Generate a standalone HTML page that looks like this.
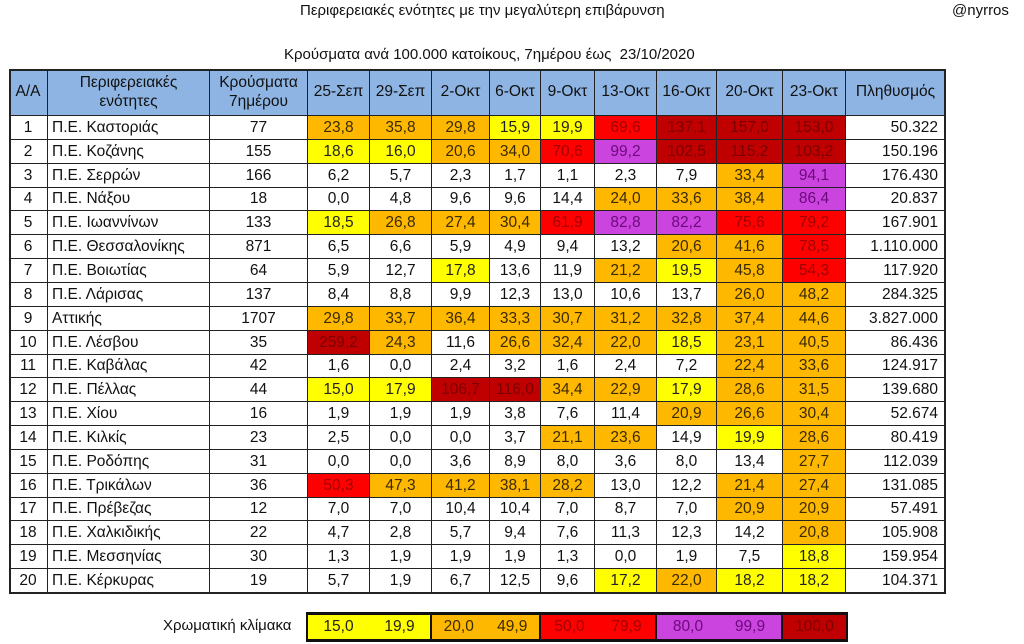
<!DOCTYPE html>
<html><head><meta charset="utf-8">
<style>
body{margin:0;width:1024px;height:644px;background:#fff;position:relative;overflow:hidden;font-family:"Liberation Sans Narrow","Liberation Sans",sans-serif;color:#111}
.t{position:absolute;white-space:nowrap;font-size:15px}
.c{position:absolute;box-sizing:border-box;border-right:1px solid #222;border-bottom:1px solid #222;font-size:15.5px;display:flex;align-items:center;overflow:hidden}
#tbl{position:absolute;left:9px;top:69px;width:937px;height:525px;border:2px solid #222;box-sizing:border-box}
</style></head><body>
<div class="t" style="left:300px;top:2px;font-size:15px">Περιφερειακές ενότητες με την μεγαλύτερη επιβάρυνση</div>
<div class="t" style="left:952px;top:2px">@nyrros</div>
<div class="t" style="left:284px;top:46px">Κρούσματα ανά 100.000 κατοίκους, 7ημέρου έως&nbsp; 23/10/2020</div>
<div id="grid"></div>
<div class="t" style="left:163px;top:617px">Χρωματική κλίμακα</div>
<div id="legend"></div>
<script>
const dates=["25-Σεπ","29-Σεπ","2-Οκτ","6-Οκτ","9-Οκτ","13-Οκτ","16-Οκτ","20-Οκτ","23-Οκτ"];
const regions=["Π.Ε. Καστοριάς","Π.Ε. Κοζάνης","Π.Ε. Σερρών","Π.Ε. Νάξου","Π.Ε. Ιωαννίνων","Π.Ε. Θεσσαλονίκης","Π.Ε. Βοιωτίας","Π.Ε. Λάρισας","Αττικής","Π.Ε. Λέσβου","Π.Ε. Καβάλας","Π.Ε. Πέλλας","Π.Ε. Χίου","Π.Ε. Κιλκίς","Π.Ε. Ροδόπης","Π.Ε. Τρικάλων","Π.Ε. Πρέβεζας","Π.Ε. Χαλκιδικής","Π.Ε. Μεσσηνίας","Π.Ε. Κέρκυρας"];
const cases=[77,155,166,18,133,871,64,137,1707,35,42,44,16,23,31,36,12,22,30,19];
const population=["50.322","150.196","176.430","20.837","167.901","1.110.000","117.920","284.325","3.827.000","86.436","124.917","139.680","52.674","80.419","112.039","131.085","57.491","105.908","159.954","104.371"];
const rates=[
[23.8,35.8,29.8,15.9,19.9,69.6,137.1,157.0,153.0],
[18.6,16.0,20.6,34.0,70.6,99.2,102.5,115.2,103.2],
[6.2,5.7,2.3,1.7,1.1,2.3,7.9,33.4,94.1],
[0.0,4.8,9.6,9.6,14.4,24.0,33.6,38.4,86.4],
[18.5,26.8,27.4,30.4,61.9,82.8,82.2,75.6,79.2],
[6.5,6.6,5.9,4.9,9.4,13.2,20.6,41.6,78.5],
[5.9,12.7,17.8,13.6,11.9,21.2,19.5,45.8,54.3],
[8.4,8.8,9.9,12.3,13.0,10.6,13.7,26.0,48.2],
[29.8,33.7,36.4,33.3,30.7,31.2,32.8,37.4,44.6],
[259.2,24.3,11.6,26.6,32.4,22.0,18.5,23.1,40.5],
[1.6,0.0,2.4,3.2,1.6,2.4,7.2,22.4,33.6],
[15.0,17.9,106.7,116.0,34.4,22.9,17.9,28.6,31.5],
[1.9,1.9,1.9,3.8,7.6,11.4,20.9,26.6,30.4],
[2.5,0.0,0.0,3.7,21.1,23.6,14.9,19.9,28.6],
[0.0,0.0,3.6,8.9,8.0,3.6,8.0,13.4,27.7],
[50.3,47.3,41.2,38.1,28.2,13.0,12.2,21.4,27.4],
[7.0,7.0,10.4,10.4,7.0,8.7,7.0,20.9,20.9],
[4.7,2.8,5.7,9.4,7.6,11.3,12.3,14.2,20.8],
[1.3,1.9,1.9,1.9,1.3,0.0,1.9,7.5,18.8],
[5.7,1.9,6.7,12.5,9.6,17.2,22.0,18.2,18.2]];
const scaleLow=[15.0,20.0,50.0,80.0,100.0];
const scaleHigh=[19.9,49.9,79.9,99.9,null];

const colX=[9,48,210,308,370,432,490,541,595,657,717,783,846,946];
const headTop=69,headH=47,rowH=23.85;
const fmt=v=>v.toFixed(1).replace('.',',');
function style(v){
  if(v>=100) return ["#c00000","#7a0000"];
  if(v>=80) return ["#cc44e0","#6a0a7a"];
  if(v>=50) return ["#ff0000","#a00000"];
  if(v>=20) return ["#ffb800","#3a2a00"];
  if(v>=15) return ["#ffff00","#222"];
  return ["#fff","#111"];
}
const g=document.getElementById('grid');
function cell(x0,x1,y,h,txt,bg,fg,align,name){
  const d=document.createElement('div');
  d.className='c';
  
  
  d.style.left=x0+'px';d.style.top=y+'px';d.style.width=(x1-x0)+'px';d.style.height=h+'px';
  d.style.background=bg;d.style.color=fg;
  d.style.justifyContent=align;
  if(align==='flex-end')d.style.paddingRight='7px';
  if(align==='flex-start')d.style.paddingLeft='4px';
  d.innerHTML=txt;
  g.appendChild(d);
  return d;
}
const hb="#8db4e2";
cell(colX[0],colX[1],headTop,headH,"Α/Α",hb,"#111","center","header-index");
cell(colX[1],colX[2],headTop,headH,"<div style='text-align:center;line-height:19px'>Περιφερειακές<br>ενότητες</div>",hb,"#111","center","header-region");
cell(colX[2],colX[3],headTop,headH,"<div style='text-align:center;line-height:19px'>Κρούσματα<br>7ημέρου</div>",hb,"#111","center","header-cases");
dates.forEach((d,i)=>cell(colX[3+i],colX[4+i],headTop,headH,d,hb,"#111","center","header-date"));
cell(colX[12],colX[13],headTop,headH,"Πληθυσμός",hb,"#111","center","header-population");
regions.forEach((r,ri)=>{
  const y=Math.round(headTop+headH+ri*rowH), h=Math.round(headTop+headH+(ri+1)*rowH)-y;
  cell(colX[0],colX[1],y,h,String(ri+1),"#fff","#111","center","row-index");
  cell(colX[1],colX[2],y,h,r,"#fff","#111","flex-start","region-name");
  cell(colX[2],colX[3],y,h,String(cases[ri]),"#fff","#111","center","cases-7day");
  rates[ri].forEach((v,ci)=>{
    const [bg,fg]=style(v);
    cell(colX[3+ci],colX[4+ci],y,h,fmt(v),bg,fg,"center","rate-cell");
  });
  cell(colX[12],colX[13],y,h,population[ri],"#fff","#111","flex-end","population");
});
const border=document.createElement('div');
border.id='tbl';


g.appendChild(border);
// legend
const lg=document.getElementById('legend');
const lx=[308,432,541,657,783,846];
lg.style.cssText="position:absolute;left:306px;top:612px;width:542px;height:30px;border:2px solid #111;box-sizing:border-box;background:#111";
scaleLow.forEach((lo,i)=>{
  const [bg,fg]=style(lo);
  const s=document.createElement('div');
  
  
  const w=lx[i+1]-lx[i]-(i<4?2:0);
  s.style.cssText=`position:absolute;top:1px;height:24px;left:${lx[i]-308}px;width:${w}px;background:${bg};color:${fg};font-size:15.5px;display:flex;align-items:center;justify-content:space-around`;
  s.innerHTML=`<span>${fmt(lo)}</span>`+(scaleHigh[i]!==null?`<span>${fmt(scaleHigh[i])}</span>`:'');
  lg.appendChild(s);
});
</script>
</body></html>
